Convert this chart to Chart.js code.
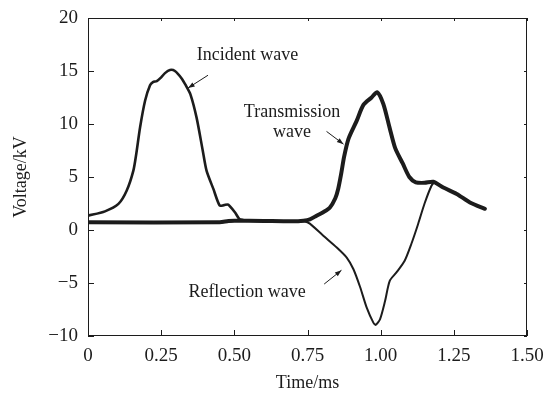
<!DOCTYPE html>
<html>
<head>
<meta charset="utf-8">
<script src="https://cdn.jsdelivr.net/npm/chart.js@4.4.1/dist/chart.umd.min.js"></script>
<style>
  html, body { margin: 0; padding: 0; background: #fff; }
  #wrap { width: 552px; height: 394px; }
</style>
</head>
<body>
<div id="wrap"><canvas id="chart"></canvas></div>
<script>
// Waveforms (time in ms, voltage in kV)
const incidentTime = [0, 0.058, 0.104, 0.132, 0.155, 0.165, 0.178, 0.195, 0.212, 0.222, 0.235, 0.25, 0.263, 0.28, 0.297, 0.32, 0.335, 0.35, 0.371, 0.392, 0.405, 0.428, 0.45, 0.465, 0.479, 0.502, 0.517, 0.53];
const incidentVolt = [1.35, 1.76, 2.46, 3.7, 5.6, 7.2, 9.7, 12.2, 13.65, 13.95, 14.05, 14.4, 14.8, 15.1, 15.0, 14.3, 13.6, 12.8, 10.6, 7.5, 5.6, 3.9, 2.3, 2.35, 2.4, 1.67, 1.04, 0.95];

const transTime = [0, 0.45, 0.48, 0.5, 0.6, 0.7, 0.736, 0.758, 0.781, 0.805, 0.826, 0.845, 0.855, 0.865, 0.875, 0.89, 0.918, 0.941, 0.969, 0.988, 1.009, 1.031, 1.05, 1.075, 1.098, 1.12, 1.15, 1.18, 1.214, 1.26, 1.305, 1.356];
const transVolt = [0.72, 0.72, 0.85, 0.88, 0.85, 0.82, 0.88, 1.0, 1.35, 1.7, 2.1, 3.0, 3.9, 5.3, 6.9, 8.6, 10.3, 11.8, 12.5, 13.0, 11.9, 9.6, 7.7, 6.3, 5.0, 4.5, 4.45, 4.55, 4.0, 3.4, 2.6, 2.0];

const reflTime = [0, 0.45, 0.5, 0.7, 0.74, 0.758, 0.804, 0.85, 0.884, 0.907, 0.93, 0.952, 0.975, 0.983, 0.998, 1.015, 1.031, 1.054, 1.082, 1.105, 1.128, 1.15, 1.174, 1.185];
const reflVolt = [0.72, 0.72, 0.85, 0.82, 0.8, 0.6, -0.54, -1.65, -2.6, -3.7, -5.4, -7.3, -8.74, -8.96, -8.4, -6.7, -4.8, -4.0, -2.9, -1.3, 0.57, 2.5, 4.2, 4.55];

const xTicks = [0, 0.25, 0.5, 0.75, 1.0, 1.25, 1.5];
const yTicks = [-10, -5, 0, 5, 10, 15, 20];

const ink = '#1c1c1c';
const serif = '"Liberation Serif", "Times New Roman", serif';

function toPoints(xs, ys) {
  return xs.map((x, i) => ({ x: x, y: ys[i] }));
}

// text labels with small arrows pointing at each trace
const callouts = [
  { lines: ['Incident wave'], at: [0.372, 16.0], align: 'left', arrow: [[0.41, 14.6], [0.342, 13.4]] },
  { lines: ['Transmission', 'wave'], at: [0.697, 10.7], align: 'center', arrow: [[0.815, 9.3], [0.873, 8.1]] },
  { lines: ['Reflection wave'], at: [0.343, -6.3], align: 'left', arrow: [[0.807, -5.1], [0.866, -3.8]] }
];

const decorations = {
  id: 'decorations',
  afterDraw(chart) {
    const ctx = chart.ctx;
    const xs = chart.scales.x;
    const ys = chart.scales.y;
    const area = chart.chartArea;
    ctx.save();
    ctx.strokeStyle = ink;
    ctx.lineWidth = 1;
    // frame
    ctx.strokeRect(area.left + 0.5, area.top + 0.5, area.right - area.left - 1, area.bottom - area.top - 1);
    // inward ticks, major on bottom/left, mirrored smaller on top/right
    ctx.beginPath();
    xTicks.forEach(v => {
      const px = Math.round(xs.getPixelForValue(v)) + 0.5;
      ctx.moveTo(px, area.bottom); ctx.lineTo(px, area.bottom - 6);
      ctx.moveTo(px, area.top); ctx.lineTo(px, area.top + 3);
    });
    yTicks.forEach(v => {
      const py = Math.round(ys.getPixelForValue(v)) + 0.5;
      ctx.moveTo(area.left, py); ctx.lineTo(area.left + 6, py);
      ctx.moveTo(area.right, py); ctx.lineTo(area.right - 3, py);
    });
    ctx.stroke();

    // callouts
    ctx.fillStyle = ink;
    ctx.font = '18px ' + serif;
    ctx.textBaseline = 'alphabetic';
    callouts.forEach(c => {
      const x = xs.getPixelForValue(c.at[0]);
      const y = ys.getPixelForValue(c.at[1]);
      ctx.textAlign = c.align;
      c.lines.forEach((t, i) => ctx.fillText(t, x, y + i * 20));
      const x1 = xs.getPixelForValue(c.arrow[0][0]), y1 = ys.getPixelForValue(c.arrow[0][1]);
      const x2 = xs.getPixelForValue(c.arrow[1][0]), y2 = ys.getPixelForValue(c.arrow[1][1]);
      ctx.beginPath();
      ctx.moveTo(x1, y1); ctx.lineTo(x2, y2);
      ctx.lineWidth = 1;
      ctx.stroke();
      const a = Math.atan2(y2 - y1, x2 - x1);
      ctx.beginPath();
      ctx.moveTo(x2, y2);
      ctx.lineTo(x2 - 7 * Math.cos(a - 0.35), y2 - 7 * Math.sin(a - 0.35));
      ctx.lineTo(x2 - 7 * Math.cos(a + 0.35), y2 - 7 * Math.sin(a + 0.35));
      ctx.closePath();
      ctx.fill();
    });
    ctx.restore();
  }
};

const lineStyle = { showLine: true, pointRadius: 0, borderColor: ink, tension: 0.25, fill: false, borderJoinStyle: 'round', borderCapStyle: 'round' };

new Chart(document.getElementById('chart'), {
  type: 'scatter',
  data: {
    datasets: [
      Object.assign({ label: 'Reflection wave', data: toPoints(reflTime, reflVolt), borderWidth: 2 }, lineStyle),
      Object.assign({ label: 'Incident wave', data: toPoints(incidentTime, incidentVolt), borderWidth: 2.6 }, lineStyle),
      Object.assign({ label: 'Transmission wave', data: toPoints(transTime, transVolt), borderWidth: 4 }, lineStyle)
    ]
  },
  options: {
    responsive: true,
    maintainAspectRatio: false,
    animation: false,
    layout: { padding: { top: 18, right: 25, left: 0, bottom: 0 } },
    plugins: { legend: { display: false }, tooltip: { enabled: false } },
    scales: {
      x: {
        type: 'linear', min: 0, max: 1.5,
        afterBuildTicks: s => { s.ticks = xTicks.map(v => ({ value: v })); },
        afterFit: s => { s.height = 58; },
        grid: { display: false },
        border: { display: false },
        ticks: {
          color: ink, padding: 1, maxRotation: 0,
          font: { family: serif, size: 19 },
          callback: v => v === 0 ? '0' : v.toFixed(2)
        },
        title: { display: true, text: 'Time/ms', color: ink, font: { family: serif, size: 18 }, padding: { top: 0, bottom: 0 } }
      },
      y: {
        type: 'linear', min: -10, max: 20,
        afterBuildTicks: s => { s.ticks = yTicks.map(v => ({ value: v })); },
        afterFit: s => { s.width = 88; },
        grid: { display: false },
        border: { display: false },
        ticks: {
          color: ink, padding: 2,
          font: { family: serif, size: 19 },
          callback: v => String(v).replace('-', '\u2212')
        },
        title: { display: true, text: 'Voltage/kV', color: ink, font: { family: serif, size: 18 }, padding: { top: 10, bottom: 0 } }
      }
    }
  },
  plugins: [decorations]
});
</script>
</body>
</html>
